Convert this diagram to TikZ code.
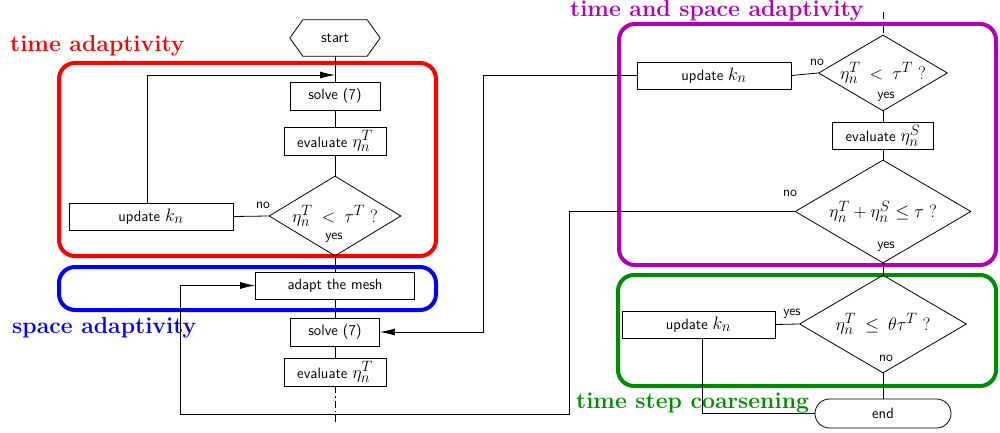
\RequirePackage{fix-cm}
\documentclass[tikz,border=0pt]{standalone}
\usetikzlibrary{shapes.geometric,shapes.misc,arrows.meta}
\definecolor{tsmag}{RGB}{176,0,176}
\definecolor{tsgreen}{RGB}{0,140,0}
% formulas in the boxes are set a little larger than the words, with large indices
\DeclareMathSizes{15}{18}{15}{12}
\newcommand{\upmath}[1]{\raisebox{2pt}{$#1$}}
\begin{document}
\begin{tikzpicture}[x=1pt,y=-1pt,
  txt/.style={font=\sffamily\fontsize{15}{18}\selectfont},
  box/.style={txt,draw,line width=0.8pt,minimum height=27pt,inner sep=0pt},
  dec/.style={txt,draw,diamond,line width=0.8pt,inner sep=0pt},
  lbl/.style={font=\sffamily\fontsize{14}{16}\selectfont,inner sep=0pt},
  conn/.style={line width=0.8pt},
  arr/.style={conn,-{Latex[length=15pt,width=7pt]}},
  dd/.style={conn,dash pattern=on 7pt off 3pt on 1.5pt off 3pt},
  frame/.style={line width=4pt,rounded corners=16pt},
  title/.style={font=\bfseries\fontsize{23}{27}\selectfont,anchor=base west,inner sep=0pt}
]
\useasboundingbox (0,0) rectangle (1000,433);

% group frames
\draw[frame,red]     (59,63)   rectangle (436,256);
\draw[frame,blue]    (59,267)  rectangle (436,310);
\draw[frame,tsmag]   (619,24)  rectangle (996,265);
\draw[frame,tsgreen] (618,275) rectangle (996,386);

% group titles
\node[title,text=red]     (tA) at (10,52)  {time adaptivity};
\node[title,text=blue]    (tB) at (12,333) {space adaptivity};
\node[title,text=tsmag]   (tC) at (570,17) {time and space adaptivity};
\node[title,text=tsgreen] (tD) at (576,408) {time step coarsening};

% left column
\node[txt,minimum width=90pt,minimum height=36pt,inner sep=0pt] (start) at (335,38) {start};
\draw[conn] (start.west) -- ([xshift=13pt]start.north west) -- ([xshift=-13pt]start.north east)
  -- (start.east) -- ([xshift=-13pt]start.south east) -- ([xshift=13pt]start.south west) -- cycle;
\node[box,minimum width=90pt,minimum height=28pt]  (solveA) at (335,96)  {solve (7)};
\node[box,minimum width=102pt,minimum height=28pt] (evalA)  at (335,141) {evaluate $\eta_n^T$};
\node[dec,minimum width=132pt,minimum height=80pt,aspect=1.65] (dA) at (335,216) {\upmath{\eta_n^T\:<\:\tau^T\;?}};
\node[box,minimum width=164pt] (updA) at (151,216.5) {update $k_n$};
\node[box,minimum width=159pt] (adapt) at (335,285.5) {adapt the mesh};
\node[box,minimum width=89pt,minimum height=28pt]  (solveB) at (335,332) {solve (7)};
\node[box,minimum width=102pt,minimum height=28pt] (evalB)  at (335,372) {evaluate $\eta_n^T$};

\node[lbl] (noA)  at (263,205) {no};
\node[lbl] (yesA) at (334,238) {yes};

% right column
\node[dec,minimum width=129pt,minimum height=76pt,aspect=1.7] (dB) at (883,73) {\upmath{\eta_n^T\:<\:\tau^T\;?}};
\node[box,minimum width=154pt] (updB) at (714,75.5) {update $k_n$};
\node[box,minimum width=101pt] (evalS) at (883,135.5) {evaluate $\eta_n^S$};
\node[dec,minimum width=176pt,minimum height=103pt,aspect=1.71] (dC) at (883,211.5) {\upmath{\eta_n^T+\eta_n^S\le\tau\;?}};
\node[dec,minimum width=167pt,minimum height=98pt,aspect=1.7] (dD) at (883,324) {\upmath{\eta_n^T\:\le\:\theta\tau^T\;?}};
\node[box,minimum width=153pt] (updC) at (698.5,324.5) {update $k_n$};
\node[txt,draw,line width=0.8pt,rounded rectangle,minimum width=136pt,minimum height=29pt,inner sep=0pt] (stop) at (883,413.5) {end};

\node[lbl] (noB)  at (817,62)  {no};
\node[lbl] (yesB) at (886,97)  {yes};
\node[lbl] (noC)  at (790,193) {no};
\node[lbl] (yesC) at (886,247) {yes};
\node[lbl] (yesD) at (792,314) {yes};
\node[lbl] (noD)  at (886,358) {no};

% junction points of the connectors
\coordinate (jA) at (335,75);
\coordinate (jB) at (483,75.5);
\coordinate (jC) at (569,211.5);
\coordinate (jD) at (180,414);
\coordinate (topIn) at (883,12);
\coordinate (botOut) at (335,424);

% left column flow
\draw[conn] (start.south) -- (solveA.north);
\draw[conn] (solveA) -- (evalA);
\draw[conn] (evalA) -- (dA);
\draw[conn] (dA.south) -- (adapt.north);
\draw[conn] (adapt) -- (solveB);
\draw[conn] (solveB) -- (evalB);
\draw[dd] (evalB.south) -- (botOut);
\draw[conn] (dA.west) -- (updA.east);
\draw[arr] ([xshift=-4pt]updA.north) |- (jA);

% right column flow
\draw[dd] (topIn) -- (dB.north);
\draw[conn] (dB.west) -- (updB.east);
\draw[arr] (updB.west) -- (jB) |- (solveB.east);
\draw[conn] (dB.south) -- (evalS.north);
\draw[conn] (evalS.south) -- (dC.north);
\draw[conn] (dC.south) -- (dD.north);
\draw[arr] (dC.west) -- (jC) |- (jD) |- (adapt.west);
\draw[conn] (dD.west) -- (updC.east);
\draw[conn] (dD.south) -- (stop.north);
\draw[conn] ([xshift=3.5pt]updC.south) |- (stop.west);
\end{tikzpicture}
\end{document}
